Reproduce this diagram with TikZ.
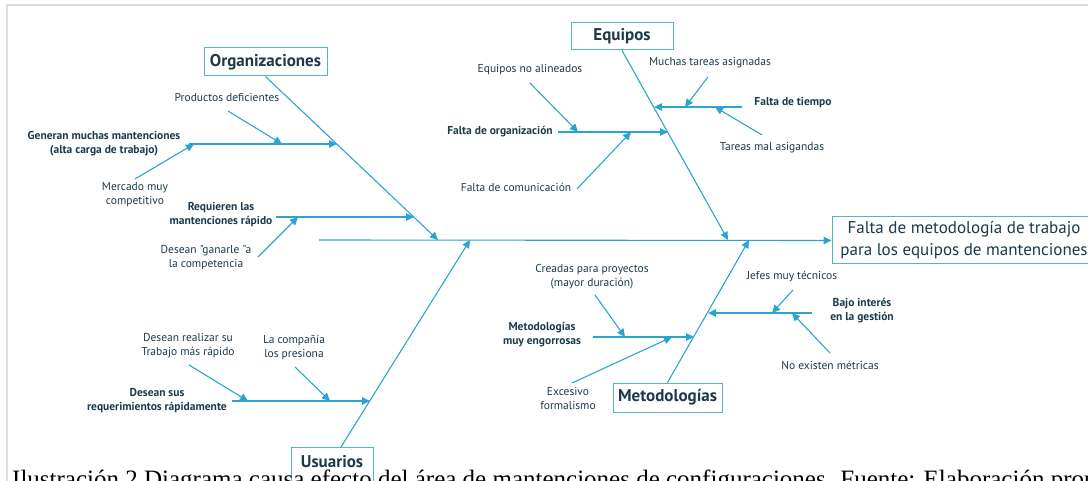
\documentclass[tikz,border=0pt]{standalone}
\usepackage{fontspec}
\usetikzlibrary{arrows.meta}
\newfontfamily\labfont{PT Sans}
\newfontfamily\capfont{Liberation Serif}

\definecolor{lineblue}{HTML}{2BA5D0}
\definecolor{boxteal}{HTML}{58B2C6}
\definecolor{ink}{HTML}{1D3A4A}
\definecolor{framegray}{HTML}{DEDEDE}

\tikzset{
  bone/.style={draw=lineblue, line width=1.1pt},
  arr/.style={bone, -{Triangle[length=8pt,width=7.5pt]}},
  cat/.style={draw=boxteal, line width=1pt, fill=white, text=ink,
    font=\labfont\bfseries\fontsize{17}{19}\selectfont, inner xsep=4pt},
  cause/.style={text=ink, align=center, inner sep=1pt,
    font=\labfont\fontsize{11.5}{14}\selectfont},
  bcause/.style={cause, font=\labfont\bfseries\fontsize{11.5}{14}\selectfont},
}

\begin{document}
\begin{tikzpicture}[x=1pt,y=-1pt]
\useasboundingbox (0,0) rectangle (1088,481);
\begin{scope}
\clip (0,0) rectangle (1088,481);

% page frame
\draw[framegray, line width=1.6pt] (7,490) -- (7,5) -- (1095,5);

% effect box and spine
\node[draw=boxteal, line width=1pt, fill=white, text=ink, align=center,
      minimum width=264pt, minimum height=47pt,
      font=\labfont\fontsize{17}{22}\selectfont] (effect) at (964,240.5)
  {Falta de metodología de trabajo\\para los equipos de mantenciones};
\coordinate (tail) at (319,240);
\draw[arr] (tail) -- (effect.west);

% category boxes
\node[cat, minimum width=123pt, minimum height=28pt] (org) at (265.5,62) {Organizaciones};
\node[cat, minimum width=102pt, minimum height=27pt] (equ) at (622,36.5) {Equipos};
\node[cat, minimum width=109pt, minimum height=29pt] (met) at (667.5,397.5) {Metodologías};
\node[cat, anchor=north, minimum width=82pt, inner ysep=3pt,
      text height=17pt, text depth=22pt] (usr) at (332,447) {Usuarios};

% junctions on the spine
\coordinate (jOrg) at (438,240);
\coordinate (jUsr) at (470,240);
\coordinate (jEqu) at (728,240);
\coordinate (jMet) at (749,240);

% main bones
\coordinate (usrTop) at (341,447);
\draw[arr] (org.south) -- (jOrg);
\draw[arr] (usrTop) -- (jUsr);
\draw[arr] (equ.south) -- (jEqu);
\draw[arr] (met.north) -- (jMet);

% ---------- Organizaciones ----------
\node[bcause] (gen) at (104,144) {Generan muchas mantenciones\\(alta carga de trabajo)};
\coordinate (o1s) at (189,144);
\coordinate (o1e) at (337,144);
\draw[arr] (o1s) -- (o1e);
\node[cause] (prod) at (227,98) {Productos deficientes};
\coordinate (prodS) at (228,111);
\coordinate (prodE) at (282,144);
\draw[arr] (prodS) -- (prodE);
\node[cause] (merc) at (135,195) {Mercado muy\\competitivo};
\coordinate (mercS) at (135,179);
\coordinate (mercE) at (194,144);
\draw[arr] (mercS) -- (mercE);

\node[bcause] (req) at (221,215) {Requieren las\\mantenciones rápido};
\coordinate (o2s) at (276,217);
\coordinate (o2e) at (414,217);
\draw[arr] (o2s) -- (o2e);
\node[cause] (gan) at (206,258) {Desean "ganarle "a\\la competencia};
\coordinate (ganS) at (258,257);
\coordinate (ganE) at (298,217);
\draw[arr] (ganS) -- (ganE);

% ---------- Equipos ----------
\node[bcause] (forg) at (500,132) {Falta de organización};
\coordinate (e1s) at (558,132);
\coordinate (e1e) at (668,132);
\draw[arr] (e1s) -- (e1e);
\node[cause] (alin) at (530,70) {Equipos no alineados};
\coordinate (alinS) at (530,83);
\coordinate (alinE) at (578,132);
\draw[arr] (alinS) -- (alinE);
\node[cause] (comu) at (516,187) {Falta de comunicación};
\coordinate (comuS) at (577,189);
\coordinate (comuE) at (631,132);
\draw[arr] (comuS) -- (comuE);

\node[bcause] (ftie) at (793,103) {Falta de tiempo};
\coordinate (e2s) at (742,107);
\coordinate (e2e) at (654,107);
\draw[arr] (e2s) -- (e2e);
\node[cause] (much) at (710,63) {Muchas tareas asignadas};
\coordinate (muchS) at (708,77);
\coordinate (muchE) at (685,107);
\draw[arr] (muchS) -- (muchE);
\node[cause] (mala) at (772,148) {Tareas mal asigandas};
\coordinate (malaS) at (762,135);
\coordinate (malaE) at (715,107);
\draw[arr] (malaS) -- (malaE);

% ---------- Usuarios ----------
\node[bcause] (dsus) at (157,401) {Desean sus\\requerimientos rápidamente};
\coordinate (u1s) at (232,401);
\coordinate (u1e) at (370,401);
\draw[arr] (u1s) -- (u1e);
\node[cause] (real) at (188,346) {Desean realizar su\\Trabajo más rápido};
\coordinate (realS) at (189,365);
\coordinate (realE) at (248,401);
\draw[arr] (realS) -- (realE);
\node[cause] (pres) at (294,348) {La compañía\\los presiona};
\coordinate (presS) at (295,367);
\coordinate (presE) at (330,401);
\draw[arr] (presS) -- (presE);

% ---------- Metodologías ----------
\node[bcause] (engo) at (542,335) {Metodologías\\muy engorrosas};
\coordinate (m1s) at (593,337);
\coordinate (m1e) at (694,337);
\draw[arr] (m1s) -- (m1e);
\node[cause] (crea) at (592,277) {Creadas para proyectos\\(mayor duración)};
\coordinate (creaS) at (595,295);
\coordinate (creaE) at (625,337);
\draw[arr] (creaS) -- (creaE);
\node[cause] (form) at (568,398) {Excesivo\\formalismo};
\coordinate (formS) at (572,383);
\coordinate (formE) at (672,337);
\draw[arr] (formS) -- (formE);

\node[bcause] (bajo) at (862,311) {Bajo interés\\en la gestión};
\coordinate (m2s) at (812,313);
\coordinate (m2e) at (708,313);
\draw[arr] (m2s) -- (m2e);
\node[cause] (jefe) at (792,277) {Jefes muy técnicos};
\coordinate (jefeS) at (793,290);
\coordinate (jefeE) at (772,313);
\draw[arr] (jefeS) -- (jefeE);
\node[cause] (metr) at (830,365) {No existen métricas};
\coordinate (metrS) at (830,353);
\coordinate (metrE) at (792,313);
\draw[arr] (metrS) -- (metrE);

% caption running under the figure
\node[anchor=base west, inner sep=0pt, text=black,
      font=\capfont\fontsize{25}{28}\selectfont] (caption) at (12,487)
  {Ilustración 2 Diagrama causa efecto del área de mantenciones de configuraciones. Fuente: Elaboración propia};
\end{scope}
\end{tikzpicture}
\end{document}
